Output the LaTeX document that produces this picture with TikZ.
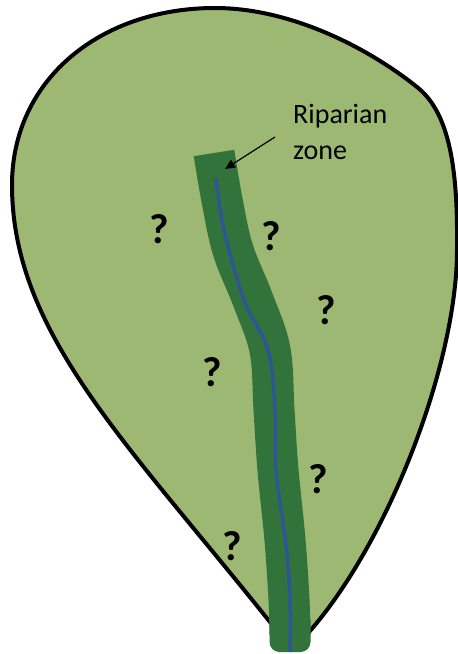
\documentclass[tikz,border=0pt]{standalone}
\usepackage{fontspec}
\setmainfont{Carlito}
\usetikzlibrary{arrows.meta}
\definecolor{leafgreen}{HTML}{9CB872}
\definecolor{zonegreen}{HTML}{31733A}
\definecolor{streamblue}{HTML}{2F5597}
\tikzset{
  qmark/.style={font=\fontsize{42}{42}\selectfont\bfseries, inner sep=0pt},
  labeltext/.style={font=\fontsize{28}{36}\selectfont, align=left, anchor=north west, inner sep=0pt},
  pointer/.style={line width=1.2pt, -{Triangle[length=10pt,width=9pt]}},
}
\begin{document}
\begin{tikzpicture}[x=1pt,y=-1pt]
\useasboundingbox (0,0) rectangle (458,654);
% catchment outline
\draw[line width=4pt, fill=leafgreen, line join=round]
  (292,650) .. controls (140,455) and (12,340) .. (12,185)
  .. controls (12,80) and (100,8) .. (215,8)
  .. controls (290,8) and (367,47) .. (417,87)
  .. controls (450,113) and (458,170) .. (457,250)
  .. controls (457,370) and (380,565) .. (292,650) -- cycle;
% riparian zone
\draw[zonegreen, line width=41pt, line cap=butt]
  plot[smooth, tension=0.6] coordinates {(214,153) (222,200) (233,250) (253,300) (270,350) (274,410) (278,470) (285,540) (289,600) (290,635)};
\fill[zonegreen, rounded corners=10pt] (269.5,610) rectangle (310.5,652);
% stream
\draw[streamblue, line width=3.5pt]
  plot[smooth, tension=0.6] coordinates {(216,178) (224,230) (244,300) (268,350) (275,410) (276,470) (286,545) (290,600) (290,652)};
% label
\node[labeltext] (lbl) at (293,104) {Riparian\\zone};
\coordinate (tail) at (275,137);
\coordinate (tip) at (225,169);
\draw[pointer] (tail) -- (tip);
% question marks
\node[qmark] (q1) at (159,229) {?};
\node[qmark] (q2) at (271,236) {?};
\node[qmark] (q3) at (326,310) {?};
\node[qmark] (q4) at (212,372) {?};
\node[qmark] (q5) at (318,479) {?};
\node[qmark] (q6) at (232,546) {?};
\end{tikzpicture}
\end{document}
